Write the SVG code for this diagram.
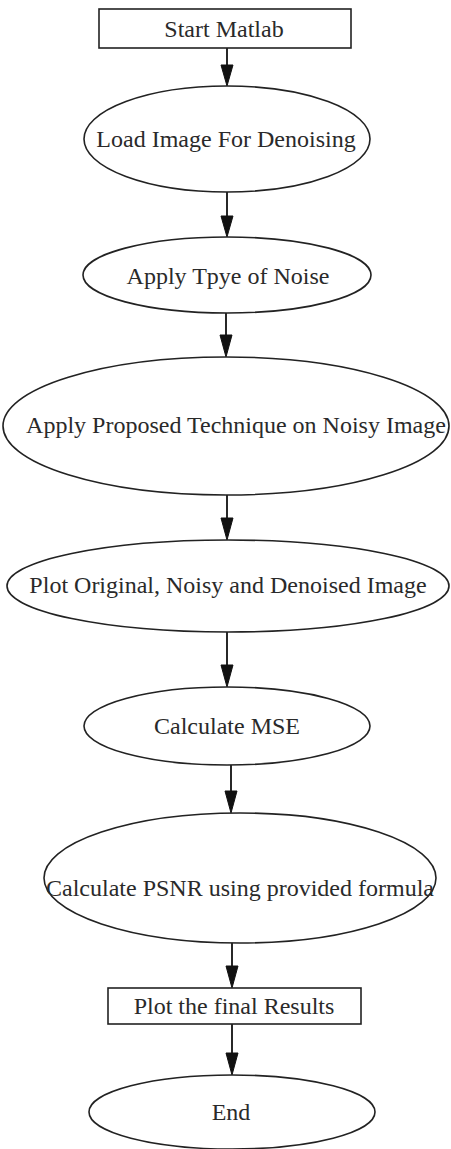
<svg xmlns="http://www.w3.org/2000/svg" width="451" height="1149" viewBox="0 0 451 1149">
  <style>
    .shape { fill: #ffffff; stroke: #222222; stroke-width: 1.6; }
    .label { font-family: "Liberation Serif", "Times New Roman", serif; font-size: 24px; fill: #2a2a2a; text-anchor: middle; }
    .edge { stroke: #111111; stroke-width: 1.8; fill: none; }
    .head { fill: #111111; stroke: #111111; stroke-width: 1; }
  </style>
  <rect width="451" height="1149" fill="#ffffff"/>

  <!-- connectors -->
  <g id="edges">
    <line class="edge" x1="227" y1="48" x2="227" y2="66"/>
    <polygon class="head" points="221,65 233,65 227,86"/>

    <line class="edge" x1="227" y1="192" x2="227" y2="217"/>
    <polygon class="head" points="221,216 233,216 227,237"/>

    <line class="edge" x1="226" y1="313" x2="226" y2="336"/>
    <polygon class="head" points="220,335 232,335 226,357"/>

    <line class="edge" x1="227" y1="487" x2="227" y2="519"/>
    <polygon class="head" points="221,518 233,518 227,540"/>

    <line class="edge" x1="227" y1="632" x2="227" y2="666"/>
    <polygon class="head" points="221,665 233,665 227,687"/>

    <line class="edge" x1="231" y1="765" x2="231" y2="792"/>
    <polygon class="head" points="225,791 237,791 231,813"/>

    <line class="edge" x1="232" y1="942" x2="232" y2="967"/>
    <polygon class="head" points="226,966 238,966 232,988"/>

    <line class="edge" x1="232" y1="1024" x2="232" y2="1054"/>
    <polygon class="head" points="226,1053 238,1053 232,1075"/>
  </g>

  <g id="start">
    <rect class="shape" x="99" y="9" width="252" height="39"/>
    <text class="label" x="224" y="37">Start Matlab</text>
  </g>

  <g id="load">
    <ellipse class="shape" cx="227" cy="139" rx="143" ry="53"/>
    <text class="label" x="226" y="147">Load Image For Denoising</text>
  </g>

  <g id="noise">
    <ellipse class="shape" cx="227" cy="275" rx="144" ry="38"/>
    <text class="label" x="228" y="284">Apply Tpye of Noise</text>
  </g>

  <g id="technique">
    <ellipse class="shape" cx="226" cy="426" rx="223" ry="69"/>
    <text class="label" x="236" y="433">Apply Proposed Technique on Noisy Image</text>
  </g>

  <g id="plot">
    <ellipse class="shape" cx="228" cy="586" rx="221" ry="46"/>
    <text class="label" x="228" y="593">Plot Original, Noisy and Denoised Image</text>
  </g>

  <g id="mse">
    <ellipse class="shape" cx="227" cy="726" rx="143" ry="39"/>
    <text class="label" x="227" y="734">Calculate MSE</text>
  </g>

  <g id="psnr">
    <ellipse class="shape" cx="240" cy="878" rx="196" ry="65"/>
    <text class="label" x="240" y="896">Calculate PSNR using provided formula</text>
  </g>

  <g id="results">
    <rect class="shape" x="108" y="988" width="253" height="36"/>
    <text class="label" x="234" y="1014">Plot the final Results</text>
  </g>

  <g id="end">
    <ellipse class="shape" cx="232" cy="1112" rx="143" ry="37"/>
    <text class="label" x="231" y="1120">End</text>
  </g>
</svg>
